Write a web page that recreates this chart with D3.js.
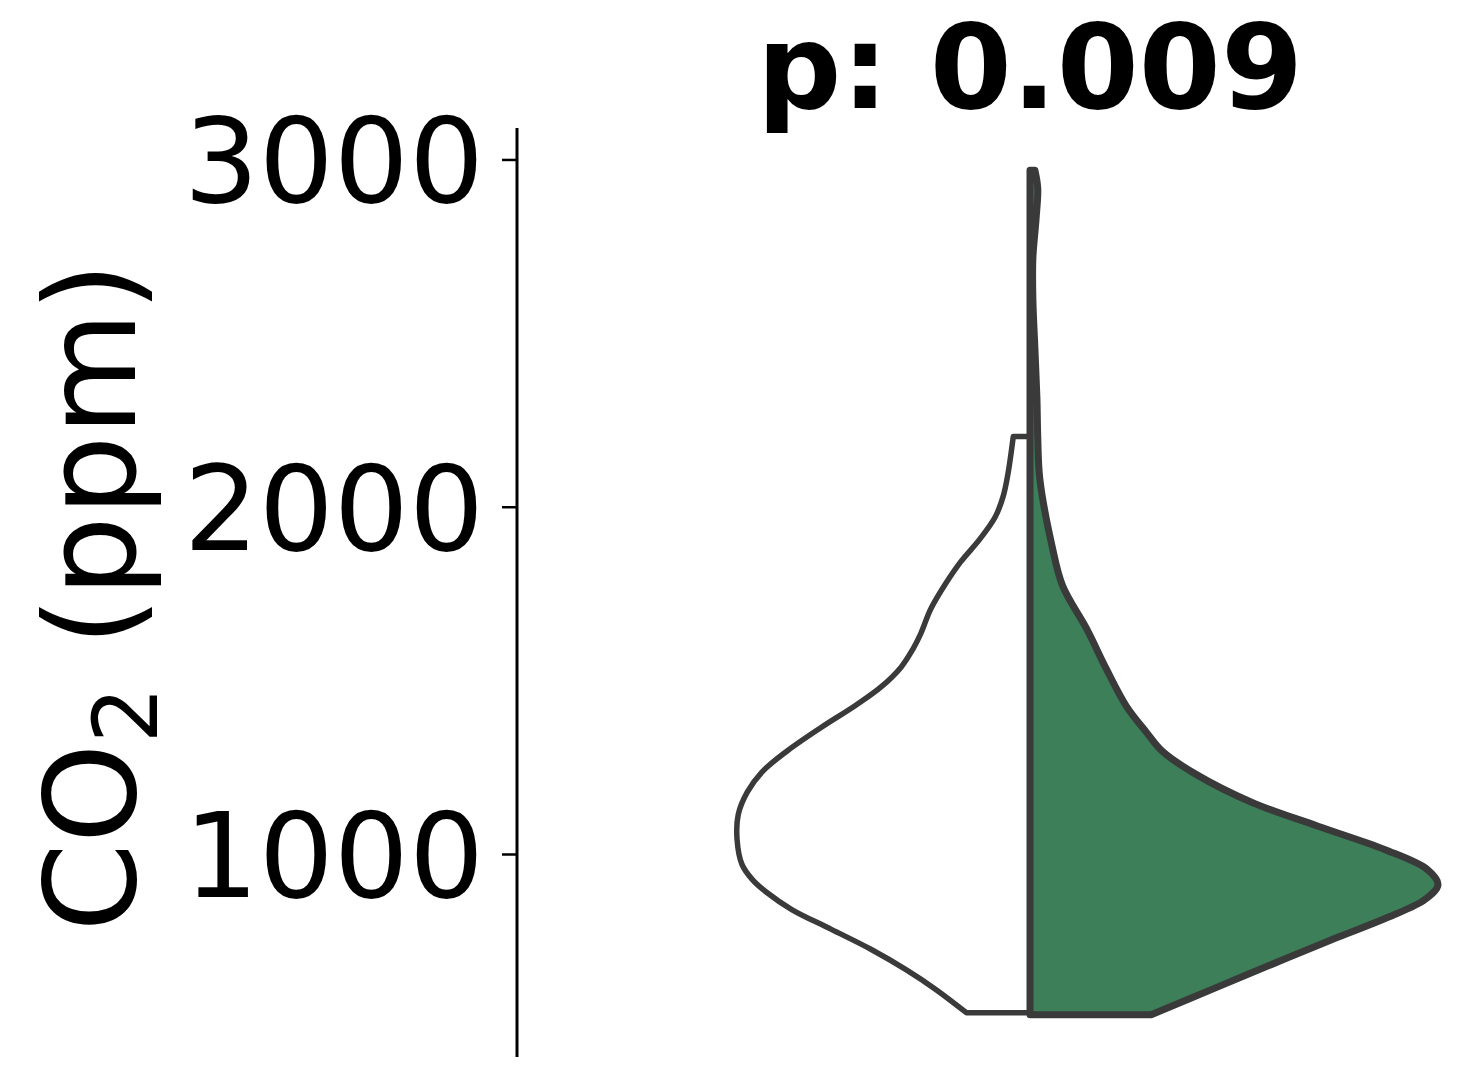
<!DOCTYPE html>
<html>
<head>
<meta charset="utf-8">
<script src="https://cdn.jsdelivr.net/npm/d3@7"></script>
<style>
  html, body { margin: 0; padding: 0; background: #ffffff; }
  svg { display: block; }
  text { font-family: "DejaVu Sans", sans-serif; fill: #000; }
</style>
</head>
<body>
<svg id="chart" width="1461" height="1072"></svg>
<script>
// Split violin of CO2 concentration: two groups share one position,
// left half drawn white, right half drawn green.
const categories = ["CO2"];
const groups = ["groupA", "groupB"];
const groupFill = ["#ffffff", "#3c7f59"];
const groupStroke = [5.5, 7];

// Estimated kernel density profiles (relative density at each ppm level).
const ppmA = [2202, 2095, 2029, 1971, 1908, 1841, 1778, 1706, 1634, 1590, 1538, 1481, 1429, 1365,
              1296, 1236, 1178, 1114, 1042, 970, 927, 889, 840, 783, 725, 667, 610, 543];
const densityA = [0.041, 0.054, 0.066, 0.085, 0.122, 0.170, 0.207, 0.243, 0.268, 0.287, 0.316, 0.365, 0.426, 0.511,
                  0.596, 0.657, 0.693, 0.715, 0.718, 0.706, 0.681, 0.645, 0.584, 0.487, 0.389, 0.304, 0.231, 0.156];

const ppmB = [2969, 2917, 2831, 2715, 2600, 2456, 2312, 2202, 2081, 1887, 1772, 1648, 1533, 1426,
              1351, 1296, 1230, 1149, 1080, 1013, 956, 912, 869, 817, 760, 702, 618, 537];
const densityB = [0.012, 0.019, 0.015, 0.007, 0.007, 0.012, 0.017, 0.019, 0.024, 0.054, 0.080, 0.139, 0.187, 0.236,
                  0.285, 0.324, 0.406, 0.543, 0.706, 0.869, 0.973, 1.000, 0.968, 0.876, 0.754, 0.633, 0.462, 0.297];

const yTicks = [1000, 2000, 3000];
const titleText = "p: 0.009";

const svg = d3.select("#chart");
const plotTop = 128, plotBottom = 1057, plotLeft = 517, plotRight = 1543;

// y range: data extent padded by 5% on each side
const allPpm = ppmA.concat(ppmB);
const [lo, hi] = d3.extent(allPpm);
const pad = (hi - lo) * 0.05;
const y = d3.scaleLinear().domain([lo - pad, hi + pad]).range([plotBottom, plotTop]);

const x = d3.scaleBand().domain(categories).range([plotLeft, plotRight]).padding(0);
const cx = x(categories[0]) + x.bandwidth() / 2;

// half-width of the violin per unit of relative density
const w = d3.scaleLinear().domain([0, 1]).range([0, 408]);

const series = [
  { name: groups[0], ppm: ppmA, dens: densityA, side: -1 },
  { name: groups[1], ppm: ppmB, dens: densityB, side: 1 }
];

series.forEach((s, i) => {
  const pts = s.ppm.map((v, j) => ({ v, d: s.dens[j] }));
  const area = d3.area()
    .curve(d3.curveCatmullRom.alpha(0.5))
    .y(d => y(d.v))
    .x0(cx)
    .x1(d => cx + s.side * w(d.d));
  svg.append("path")
    .attr("d", area(pts))
    .attr("fill", groupFill[i])
    .attr("stroke", "#3a3a3a")
    .attr("stroke-width", groupStroke[i])
    .attr("stroke-linejoin", "round");
});

// y axis
const axis = d3.axisLeft(y).tickValues(yTicks).tickSize(15).tickPadding(18).tickFormat(d3.format("d"));
const gAxis = svg.append("g").attr("transform", `translate(${plotLeft},0)`).call(axis);
gAxis.select(".domain").remove();
gAxis.append("line")
  .attr("x1", 0).attr("x2", 0).attr("y1", plotTop).attr("y2", plotBottom)
  .attr("stroke", "#000").attr("stroke-width", 3);
gAxis.selectAll(".tick line").attr("stroke", "#000").attr("stroke-width", 2.5);
gAxis.selectAll(".tick text")
  .attr("font-family", "DejaVu Sans")
  .attr("font-size", 118)
  .attr("dy", "0.36em")
  .attr("fill", "#000");

// y axis label with subscript
const label = svg.append("text")
  .attr("transform", "translate(135,597) rotate(-90)")
  .attr("text-anchor", "middle")
  .attr("font-size", 127);
label.append("tspan").text("CO");
label.append("tspan").attr("font-size", 89).attr("dy", 22).text("2");
label.append("tspan").attr("dy", -22).text(" (ppm)");

// title
svg.append("text")
  .attr("x", cx).attr("y", 108)
  .attr("text-anchor", "middle")
  .attr("font-size", 118)
  .attr("font-weight", "bold")
  .text(titleText);
</script>
</body>
</html>
